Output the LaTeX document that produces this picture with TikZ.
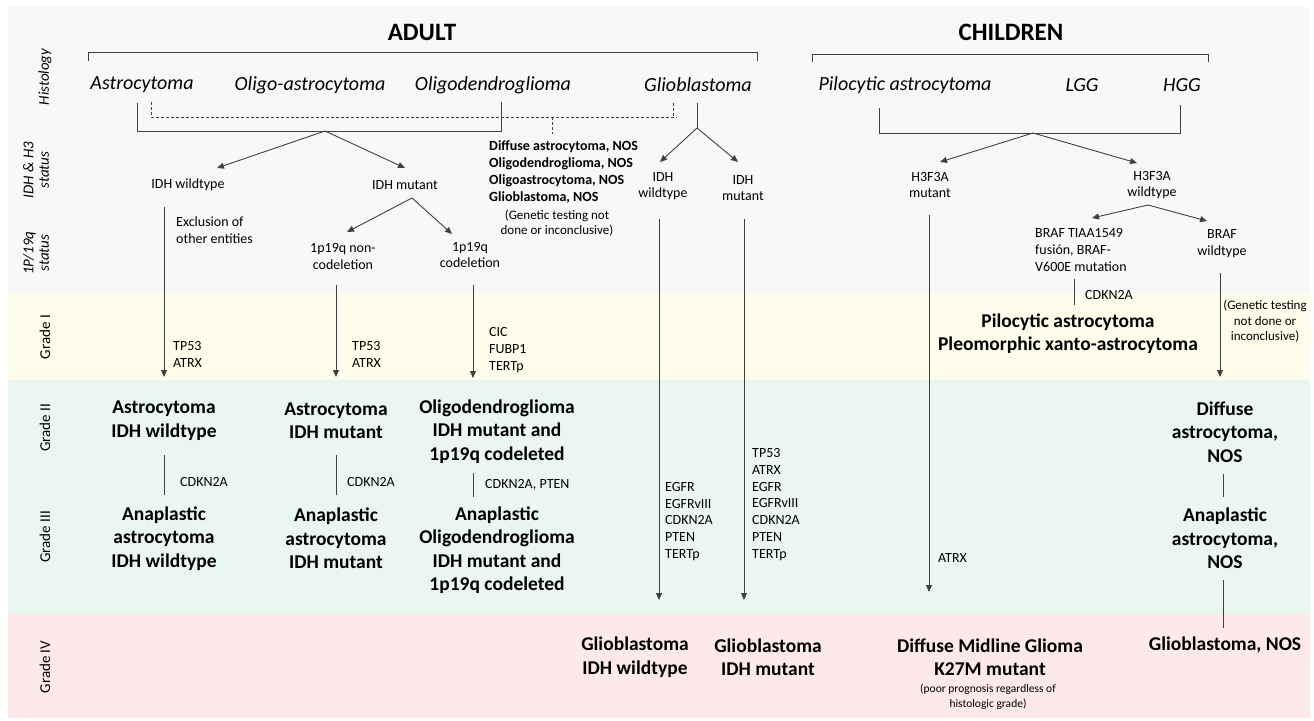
\documentclass[tikz,border=0pt]{standalone}
\usepackage{fontspec}
\setmainfont{Carlito}
\usetikzlibrary{arrows.meta}
\definecolor{linec}{HTML}{404040}
\definecolor{bggray}{HTML}{F8F8F8}
\definecolor{bgyel}{HTML}{FEFDEC}
\definecolor{bggreen}{HTML}{EAF7F0}
\definecolor{bgpink}{HTML}{FDE9E9}
\begin{document}
\begin{tikzpicture}[x=1pt,y=-1pt,
  ln/.style={draw=linec, line width=0.9pt},
  arr/.style={ln, -{Triangle[width=6pt,length=7pt]}},
  dsh/.style={ln, dash pattern=on 3pt off 2pt},
  head/.style={font=\fontsize{25}{29}\selectfont\bfseries, inner sep=0pt},
  hist/.style={font=\fontsize{20}{24}\selectfont\itshape, inner sep=0pt},
  sidei/.style={rotate=90, align=center, font=\fontsize{15}{15.5}\selectfont\itshape, inner sep=0pt},
  sideu/.style={rotate=90, align=center, font=\fontsize{15}{15.5}\selectfont, inner sep=0pt},
  lab/.style={align=center, font=\fontsize{14}{16.7}\selectfont, inner sep=0pt},
  labl/.style={align=left, anchor=west, font=\fontsize{14}{16.7}\selectfont, inner sep=0pt},
  nos/.style={align=left, anchor=west, font=\fontsize{14}{17}\selectfont\bfseries, inner sep=0pt},
  small/.style={align=center, font=\fontsize{13}{15.5}\selectfont, inner sep=0pt},
  tiny/.style={align=center, font=\fontsize{11.5}{15.5}\selectfont, inner sep=0pt},
  big/.style={align=center, font=\fontsize{19.5}{23.5}\selectfont\bfseries, inner sep=0pt}
]
\useasboundingbox (0,0) rectangle (1314,720);
\fill[white] (0,0) rectangle (1314,720);
\fill[bggray] (8,7) rectangle (1310,293);
\fill[bgyel] (8,293) rectangle (1310,380);
\fill[bggreen] (8,380) rectangle (1310,614);
\fill[bgpink] (8,614) rectangle (1310,718);

% side labels
\node[sidei] (sHist) at (45,77) {Histology};
\node[sidei] (sIDH) at (36,170) {IDH \& H3\\status};
\node[sidei] (s1p) at (36,253) {1P/19q\\status};
\node[sideu] (sG1) at (45,337) {Grade I};
\node[sideu] (sG2) at (45,428) {Grade II};
\node[sideu] (sG3) at (45,537) {Grade III};
\node[sideu] (sG4) at (45,667) {Grade IV};

% headings
\node[head] (adult) at (422,32) {ADULT};
\node[head] (children) at (1011,32) {CHILDREN};
\draw[ln] (88,61) -- (88,52) -- (757,52) -- (757,61);
\draw[ln] (812,62) -- (812,54) -- (1208,54) -- (1208,62);

% histology
\node[hist] (astro) at (142,85) {Astrocytoma};
\node[hist] (oligoastro) at (310,85) {Oligo-astrocytoma};
\node[hist] (oligo) at (493,85) {Oligodendroglioma};
\node[hist] (gbm) at (698,85) {Glioblastoma};
\node[hist] (pilo) at (905,85) {Pilocytic astrocytoma};
\node[hist] (lgg) at (1082,85) {LGG};
\node[hist] (hgg) at (1182,85) {HGG};

% adult brackets
\coordinate (bA1) at (137,103);
\coordinate (bA2) at (501,102);
\coordinate (apexA) at (325,131);
\draw[ln] (bA1) -- (137,131) -- (501,131) -- (bA2);
\coordinate (dA1) at (151,102);
\coordinate (dA2) at (673,103);
\coordinate (dDrop) at (552,134);
\draw[dsh] (dA1) -- (151,117) -- (677,117);
\draw[dsh] (dA2) -- (673,117);
\draw[dsh] (552,117) -- (dDrop);
\coordinate (gTop) at (697,103);
\coordinate (gApex) at (697,128);
\draw[ln] (gTop) -- (gApex);

% IDH status adult
\node[lab] (idhwt) at (188,185) {IDH wildtype};
\node[lab] (idhmut) at (405,185) {IDH mutant};
\coordinate (tIdhwt) at (217,168);
\coordinate (tIdhmut) at (405,168);
\draw[arr] (apexA) -- (tIdhwt);
\draw[arr] (apexA) -- (tIdhmut);

\node[nos] (nos) at (489,172.5) {Diffuse astrocytoma, NOS\\Oligodendroglioma, NOS\\Oligoastrocytoma, NOS\\Glioblastoma, NOS};
\node[small] (gtest1) at (557,223) {(Genetic testing not\\done or inconclusive)};

\node[lab] (gwt) at (663,186) {IDH\\wildtype};
\node[lab] (gmut) at (743,188) {IDH\\mutant};
\coordinate (tGwt) at (660,162);
\coordinate (tGmut) at (738,162);
\draw[arr] (gApex) -- (tGwt);
\draw[arr] (gApex) -- (tGmut);

% glioblastoma arrows
\coordinate (gwtS) at (659,219);
\coordinate (gwtE) at (659,600);
\coordinate (gmutS) at (744,219);
\coordinate (gmutE) at (744,600);
\draw[arr] (gwtS) -- (gwtE);
\draw[arr] (gmutS) -- (gmutE);
\node[labl] (egfr1) at (665,521.5) {EGFR\\EGFRvIII\\CDKN2A\\PTEN\\TERTp};
\node[labl] (egfr2) at (752,504.5) {TP53\\ATRX\\EGFR\\EGFRvIII\\CDKN2A\\PTEN\\TERTp};

% adult IDH wildtype path
\coordinate (wtS) at (164,207);
\coordinate (wtE) at (164,377);
\draw[arr] (wtS) -- (wtE);
\node[labl] (excl) at (176,230.5) {Exclusion of\\other entities};
\node[labl] (tp1) at (173,354.5) {TP53\\ATRX};

% IDH mutant split
\coordinate (mApex) at (412,198);
\coordinate (tNon) at (347,232);
\coordinate (tCod) at (452,234);
\draw[arr] (mApex) -- (tNon);
\draw[arr] (mApex) -- (tCod);
\node[lab] (non) at (343,256.5) {1p19q non-\\codeletion};
\node[lab] (cod) at (470,255) {1p19q\\codeletion};
\coordinate (nonS) at (336,285);
\coordinate (nonE) at (336,377);
\coordinate (codS) at (473,285);
\coordinate (codE) at (473,378);
\draw[arr] (nonS) -- (nonE);
\draw[arr] (codS) -- (codE);
\node[labl] (tp2) at (352,354.5) {TP53\\ATRX};
\node[labl] (cic) at (489,350) {CIC\\FUBP1\\TERTp};

% grade II / III adult
\node[big] (a1) at (164,420.5) {Astrocytoma\\IDH wildtype};
\node[big] (a2) at (336,420.5) {Astrocytoma\\IDH mutant};
\node[big] (o1) at (497,431.5) {Oligodendroglioma\\IDH mutant and\\1p19q codeleted};
\coordinate (l1a) at (164,455); \coordinate (l1b) at (164,495);
\coordinate (l2a) at (336,455); \coordinate (l2b) at (336,495);
\coordinate (l3a) at (473,473); \coordinate (l3b) at (473,497);
\draw[ln] (l1a) -- (l1b);
\draw[ln] (l2a) -- (l2b);
\draw[ln] (l3a) -- (l3b);
\node[labl] (ck1) at (180,482) {CDKN2A};
\node[labl] (ck2) at (347,482) {CDKN2A};
\node[labl] (ck3) at (485,485) {CDKN2A, PTEN};
\node[big] (aa1) at (164,538.5) {Anaplastic\\astrocytoma\\IDH wildtype};
\node[big] (aa2) at (336,538.5) {Anaplastic\\astrocytoma\\IDH mutant};
\node[big] (ao) at (497,550) {Anaplastic\\Oligodendroglioma\\IDH mutant and\\1p19q codeleted};

% children
\coordinate (cb1) at (879,108);
\coordinate (cb2) at (1180,105);
\coordinate (cApex) at (1033,133);
\draw[ln] (cb1) -- (879,133) -- (1180,133) -- (cb2);
\node[lab] (h3mut) at (930,185) {H3F3A\\mutant};
\node[lab] (h3wt) at (1152,185) {H3F3A\\wildtype};
\coordinate (tH3mut) at (940,162);
\coordinate (tH3wt) at (1137,163);
\draw[arr] (cApex) -- (tH3mut);
\draw[arr] (cApex) -- (tH3wt);
\coordinate (hmS) at (929,215);
\coordinate (hmE) at (929,592);
\draw[arr] (hmS) -- (hmE);
\node[labl] (atrx) at (938,558) {ATRX};

\coordinate (wApex) at (1148,205);
\coordinate (tBraf) at (1092,218);
\coordinate (tBrafwt) at (1207,221);
\draw[arr] (wApex) -- (tBraf);
\draw[arr] (wApex) -- (tBrafwt);
\node[labl] (braf) at (1035,250) {BRAF TIAA1549\\fusión, BRAF-\\V600E mutation};
\node[lab] (brafwt) at (1222,243.5) {BRAF\\wildtype};
\coordinate (ckA) at (1074,279); \coordinate (ckB) at (1074,305);
\draw[ln] (ckA) -- (ckB);
\node[labl] (ck4) at (1085,295) {CDKN2A};
\node[big] (pilo2) at (1068,333.5) {Pilocytic astrocytoma\\Pleomorphic xanto-astrocytoma};
\coordinate (bwS) at (1220,273);
\coordinate (bwE) at (1220,377);
\draw[arr] (bwS) -- (bwE);
\node[small] (gtest2) at (1265,321.5) {(Genetic testing\\not done or\\inconclusive)};
\node[big] (da) at (1225,432) {Diffuse\\astrocytoma,\\NOS};
\node[big] (ana) at (1225,538.5) {Anaplastic\\astrocytoma,\\NOS};
\coordinate (n1a) at (1223,474); \coordinate (n1b) at (1223,497);
\coordinate (n2a) at (1223,580); \coordinate (n2b) at (1223,628);
\draw[ln] (n1a) -- (n1b);
\draw[ln] (n2a) -- (n2b);

% grade IV
\node[big] (gb1) at (635,657) {Glioblastoma\\IDH wildtype};
\node[big] (gb2) at (768,657) {Glioblastoma\\IDH mutant};
\node[big] (dmg) at (990,657) {Diffuse Midline Glioma\\K27M mutant};
\node[tiny] (poor) at (988,697) {(poor prognosis regardless of\\histologic grade)};
\node[big] (gbnos) at (1225,645) {Glioblastoma, NOS};
\end{tikzpicture}
\end{document}
